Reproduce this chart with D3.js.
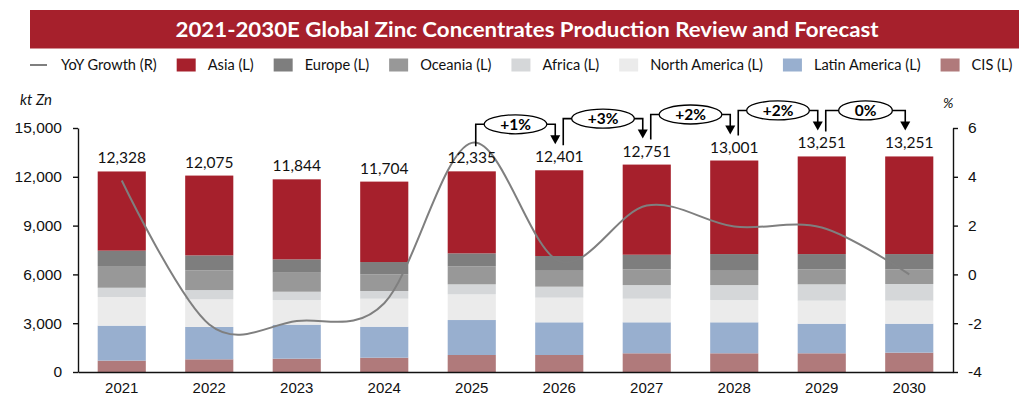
<!DOCTYPE html>
<html>
<head>
<meta charset="utf-8">
<script src="https://cdn.jsdelivr.net/npm/d3@7"></script>
<style>
  body { margin: 0; background: #fff; }
  svg { display: block; font-family: Lato, "Noto Sans", sans-serif; }
</style>
</head>
<body>
<div id="wrapper"></div>
<script>
// values (kt Zn, stacked bottom to top)
const years = ["2021", "2022", "2023", "2024", "2025", "2026", "2027", "2028", "2029", "2030"]
const cis = [700, 780, 820, 880, 1045, 1045, 1150, 1150, 1150, 1190]
const latinAmerica = [2150, 1990, 2090, 1905, 2150, 2010, 1905, 1905, 1820, 1780]
const northAmerica = [1760, 1700, 1515, 1720, 1580, 1515, 1450, 1370, 1415, 1415]
const africa = [570, 570, 510, 475, 615, 675, 840, 920, 1005, 1025]
const oceania = [1335, 1210, 1170, 1025, 1105, 1025, 965, 925, 920, 900]
const europe = [945, 920, 820, 755, 800, 860, 900, 980, 940, 940]
const asia = [4868, 4905, 4919, 4944, 5040, 5271, 5541, 5751, 6001, 6001]
// YoY growth, % (right axis)
const yoy = [3.85, -2.05, -1.91, -1.18, 5.39, 0.54, 2.82, 1.96, 1.92, 0]
// bracket call-outs, 2025->2026 ... 2029->2030
const changeFrom = ["2025", "2026", "2027", "2028", "2029"]
const changeLabels = ["+1%", "+3%", "+2%", "+2%", "0%"]
const leftTicks = [0, 3000, 6000, 9000, 12000, 15000]
const rightTicks = [-4, -2, 0, 2, 4, 6]

const regions = [
  {key: "CIS", label: "CIS (L)", values: cis, color: "#B07A7B"},
  {key: "LatAm", label: "Latin America (L)", values: latinAmerica, color: "#98AFCF"},
  {key: "NorthAm", label: "North America (L)", values: northAmerica, color: "#EBEBEB"},
  {key: "Africa", label: "Africa (L)", values: africa, color: "#D5D7D9"},
  {key: "Oceania", label: "Oceania (L)", values: oceania, color: "#989898"},
  {key: "Europe", label: "Europe (L)", values: europe, color: "#7E7E7E"},
  {key: "Asia", label: "Asia (L)", values: asia, color: "#A6202C"}
]

const table = years.map((y, i) => {
  const row = {year: y}
  regions.forEach(r => { row[r.key] = r.values[i] })
  row.total = d3.sum(regions, r => r.values[i])
  return row
})

const dimensions = {
  width: 1024,
  height: 411,
  left: 78,
  right: 953,
  top: 128,
  bottom: 372
}

const svg = d3.select("#wrapper")
  .append("svg")
  .attr("width", dimensions.width)
  .attr("height", dimensions.height)

// title banner
svg.append("rect")
  .attr("x", 30).attr("y", 10)
  .attr("width", 989).attr("height", 38.5)
  .attr("fill", "#A6202C")
svg.append("text")
  .attr("x", 527).attr("y", 37)
  .attr("text-anchor", "middle")
  .attr("fill", "#fff")
  .attr("font-size", "21px")
  .attr("font-weight", "bold")
  .attr("textLength", 703)
  .attr("lengthAdjust", "spacingAndGlyphs")
  .text("2021-2030E Global Zinc Concentrates Production Review and Forecast")

// scales
const xScaler = d3.scaleBand()
  .domain(years)
  .range([dimensions.left, dimensions.right])
  .paddingInner(0.45)
  .paddingOuter(0.225)

const yScaler = d3.scaleLinear()
  .domain([0, 15000])
  .range([dimensions.bottom, dimensions.top])

const yRight = d3.scaleLinear()
  .domain([-4, 6])
  .range([dimensions.bottom, dimensions.top])

const cx = y => xScaler(y) + xScaler.bandwidth() / 2

// stacked bars
const stacked = d3.stack().keys(regions.map(r => r.key))(table)

svg.append("g").selectAll("g")
  .data(stacked)
  .join("g")
    .attr("fill", (d, i) => regions[i].color)
  .selectAll("rect")
  .data(d => d)
  .join("rect")
    .attr("x", d => xScaler(d.data.year))
    .attr("y", d => yScaler(d[1]))
    .attr("width", xScaler.bandwidth())
    .attr("height", d => yScaler(d[0]) - yScaler(d[1]))

// axes
const xAxis = svg.append("g")
  .attr("transform", `translate(0, ${dimensions.bottom})`)
  .call(d3.axisBottom(xScaler).tickSize(0).tickPadding(10))
xAxis.selectAll("text").attr("font-size", "15px").attr("fill", "#111")

const yAxis = svg.append("g")
  .attr("transform", `translate(${dimensions.left}, 0)`)
  .call(d3.axisLeft(yScaler).tickValues(leftTicks).tickFormat(d3.format(","))
    .tickSize(5).tickSizeOuter(0).tickPadding(11))
yAxis.selectAll("text").attr("font-size", "15.5px").attr("fill", "#111")

const yAxisR = svg.append("g")
  .attr("transform", `translate(${dimensions.right}, 0)`)
  .call(d3.axisRight(yRight).tickValues(rightTicks).tickFormat(d => String(d))
    .tickSize(5).tickSizeOuter(0).tickPadding(10))
yAxisR.selectAll("text").attr("font-size", "15.5px").attr("fill", "#111")

svg.selectAll(".domain, .tick line")
  .attr("stroke", "#111")
  .attr("stroke-width", 1.4)

svg.append("text")
  .attr("x", 20).attr("y", 105)
  .attr("font-size", "15px")
  .attr("font-style", "italic")
  .attr("fill", "#111")
  .text("kt Zn")
svg.append("text")
  .attr("x", 943).attr("y", 108)
  .attr("font-size", "14px")
  .attr("font-style", "italic")
  .attr("fill", "#111")
  .text("%")

// YoY line (smoothed like the spreadsheet)
const line = d3.line()
  .x((d, i) => cx(years[i]))
  .y(d => yRight(d))
  .curve(d3.curveCardinal.tension(0))

svg.append("path")
  .datum(yoy)
  .attr("d", line)
  .attr("fill", "none")
  .attr("stroke", "#7F7F7F")
  .attr("stroke-width", 2)

// total labels
svg.append("g").selectAll("text")
  .data(table)
  .join("text")
    .attr("x", d => cx(d.year))
    .attr("y", d => yScaler(d.total) - 8)
    .attr("text-anchor", "middle")
    .attr("font-size", "15.5px")
    .attr("fill", "#111")
    .text(d => d3.format(",")(d.total))

// bracket call-outs
const totalOf = y => table.find(d => d.year === y).total
const brackets = svg.append("g")
changeFrom.forEach((from, k) => {
  const to = years[years.indexOf(from) + 1]
  const x1 = cx(from) + 4
  const x2 = cx(to) - 4
  const hy = yScaler(Math.max(totalOf(from), totalOf(to))) - 46
  const y1 = yScaler(totalOf(from)) - 25
  const tip = yScaler(totalOf(to)) - 26

  brackets.append("path")
    .attr("d", `M${x1},${y1}V${hy}H${x2}V${tip - 8}`)
    .attr("fill", "none")
    .attr("stroke", "#000")
    .attr("stroke-width", 1.6)
  brackets.append("path")
    .attr("d", `M${x2 - 5},${tip - 9}L${x2 + 5},${tip - 9}L${x2},${tip}Z`)
    .attr("fill", "#000")

  const mx = (x1 + x2) / 2
  const oval = brackets.append("ellipse")
    .attr("cx", mx).attr("cy", hy)
    .attr("ry", 9.5)
    .attr("fill", "#fff")
    .attr("stroke", "#000")
    .attr("stroke-width", 1.3)
  const t = brackets.append("text")
    .attr("x", mx).attr("y", hy + 5.5)
    .attr("text-anchor", "middle")
    .attr("font-size", "15.5px")
    .attr("font-weight", "bold")
    .attr("fill", "#000")
    .text(changeLabels[k])
  oval.attr("rx", t.node().getComputedTextLength() / 2 + 16)
})

// legend, laid out left to right
const legend = svg.append("g")
let lx = 30
legend.append("line")
  .attr("x1", lx).attr("x2", lx + 17)
  .attr("y1", 65).attr("y2", 65)
  .attr("stroke", "#7F7F7F")
  .attr("stroke-width", 2)
let lt = legend.append("text")
  .attr("x", lx + 31).attr("y", 70)
  .attr("font-size", "14.6px")
  .attr("fill", "#111")
  .text("YoY Growth (R)")
lx = lx + 31 + lt.node().getComputedTextLength() + 20

regions.slice().reverse().forEach(r => {
  legend.append("rect")
    .attr("x", lx).attr("y", 58.5)
    .attr("width", 19).attr("height", 13)
    .attr("fill", r.color)
  const t = legend.append("text")
    .attr("x", lx + 31).attr("y", 70)
    .attr("font-size", "14.6px")
    .attr("fill", "#111")
    .text(r.label)
  lx = lx + 31 + t.node().getComputedTextLength() + 20
})
</script>
</body>
</html>
